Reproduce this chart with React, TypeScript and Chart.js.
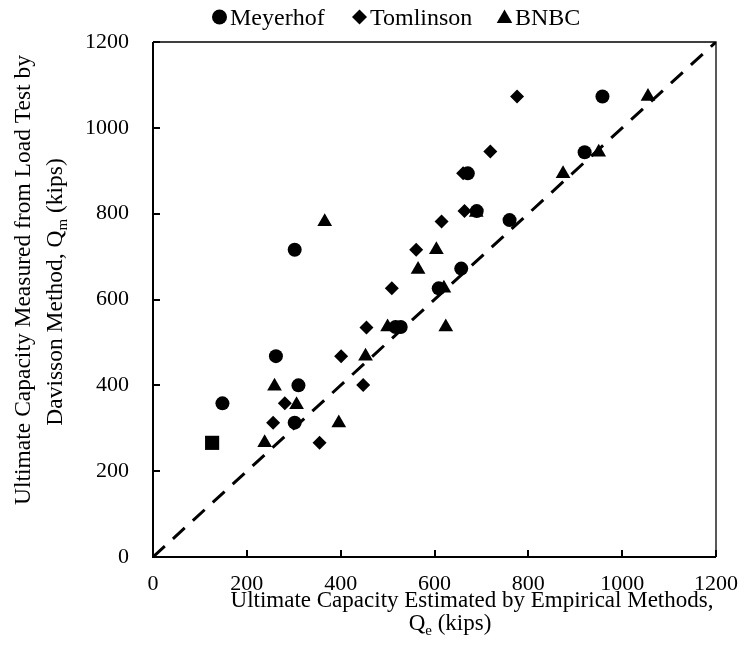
import React, { useEffect, useRef } from "react";
import { Chart, registerables } from "chart.js";

Chart.register(...registerables);

// ---- data ----
const axisTicks = [0, 200, 400, 600, 800, 1000, 1200];

const meyerhofX = [148, 262, 310, 302, 302, 517, 528, 609, 657, 671, 690, 760, 920, 958];
const meyerhofY = [358, 468, 400, 313, 716, 536, 536, 626, 672, 894, 806, 785, 943, 1073];

const tomlinsonX = [355, 256, 281, 448, 401, 455, 509, 561, 615, 664, 661, 719, 776];
const tomlinsonY = [266, 313, 358, 401, 468, 535, 626, 716, 782, 806, 894, 945, 1073];

const bnbcX = [238, 396, 306, 259, 453, 500, 624, 620, 565, 604, 366, 689, 874, 950, 1055];
const bnbcY = [266, 312, 355, 398, 468, 536, 536, 626, 670, 716, 781, 803, 893, 943, 1073];

const squareX = [126];
const squareY = [266];

const lineX = [0, 1200];
const lineY = [0, 1200];

const seriesLabels = ["Meyerhof", "Tomlinson", "BNBC"];

const FONT = '"Liberation Serif", "Times New Roman", Times, serif';

type Part = { t: string; sub?: boolean };

const xTitle1: Part[] = [{ t: "Ultimate Capacity Estimated by Empirical Methods," }];
const xTitle2: Part[] = [{ t: "Q" }, { t: "e", sub: true }, { t: " (kips)" }];
const yTitle1: Part[] = [{ t: "Ultimate Capacity Measured from Load Test by" }];
const yTitle2: Part[] = [{ t: "Davisson Method, Q" }, { t: "m", sub: true }, { t: " (kips)" }];

const zip = (xs: number[], ys: number[]) => xs.map((x, i) => ({ x, y: ys[i] }));

function drawRich(ctx: CanvasRenderingContext2D, parts: Part[], cx: number, by: number, size: number) {
  const subSize = Math.round(size * 0.65);
  const widths = parts.map((p) => {
    ctx.font = `${p.sub ? subSize : size}px ${FONT}`;
    return ctx.measureText(p.t).width;
  });
  const total = widths.reduce((a, b) => a + b, 0);
  let x = cx - total / 2;
  ctx.textAlign = "left";
  ctx.textBaseline = "alphabetic";
  parts.forEach((p, i) => {
    ctx.font = `${p.sub ? subSize : size}px ${FONT}`;
    ctx.fillText(p.t, x, by + (p.sub ? size * 0.22 : 0));
    x += widths[i];
  });
}

function drawMarker(ctx: CanvasRenderingContext2D, style: string, x: number, y: number, r: number) {
  ctx.beginPath();
  if (style === "circle") {
    ctx.arc(x, y, r, 0, Math.PI * 2);
  } else if (style === "rectRot") {
    ctx.moveTo(x - r, y);
    ctx.lineTo(x, y - r);
    ctx.lineTo(x + r, y);
    ctx.lineTo(x, y + r);
    ctx.closePath();
  } else if (style === "triangle") {
    ctx.moveTo(x, y - r);
    ctx.lineTo(x + r * 0.866, y + r * 0.5);
    ctx.lineTo(x - r * 0.866, y + r * 0.5);
    ctx.closePath();
  }
  ctx.fill();
}

const decorPlugin = {
  id: "decor",
  afterDraw(chart: any) {
    const ctx: CanvasRenderingContext2D = chart.ctx;
    const { left, right, top, bottom } = chart.chartArea;
    const xs = chart.scales.x;
    const ys = chart.scales.y;
    ctx.save();
    ctx.strokeStyle = "#000";
    ctx.fillStyle = "#000";
    // frame
    ctx.lineWidth = 1.3;
    ctx.beginPath();
    ctx.moveTo(left, top);
    ctx.lineTo(right, top);
    ctx.lineTo(right, bottom);
    ctx.stroke();
    ctx.lineWidth = 2;
    ctx.beginPath();
    ctx.moveTo(left, top);
    ctx.lineTo(left, bottom);
    ctx.lineTo(right, bottom);
    ctx.stroke();
    // inner ticks
    ctx.lineWidth = 2;
    ctx.beginPath();
    xs.ticks.forEach((t: any) => {
      const px = Math.round(xs.getPixelForValue(t.value));
      ctx.moveTo(px, bottom);
      ctx.lineTo(px, bottom - 7);
    });
    ys.ticks.forEach((t: any) => {
      const py = Math.round(ys.getPixelForValue(t.value));
      ctx.moveTo(left, py);
      ctx.lineTo(left + 7, py);
    });
    ctx.stroke();
    // axis titles
    drawRich(ctx, xTitle1, 472, 607, 23);
    drawRich(ctx, xTitle2, 450, 630, 23);
    ctx.save();
    ctx.translate(30, 280);
    ctx.rotate(-Math.PI / 2);
    drawRich(ctx, yTitle1, 0, 0, 23.5);
    ctx.restore();
    ctx.save();
    ctx.translate(62, 292);
    ctx.rotate(-Math.PI / 2);
    drawRich(ctx, yTitle2, 0, 0, 23.5);
    ctx.restore();
    // legend
    const legendItems = [
      { style: "circle", r: 7.5, mx: 219.5, tx: 230 },
      { style: "rectRot", r: 7.5, mx: 359.5, tx: 370 },
      { style: "triangle", r: 9, mx: 504.5, tx: 515 },
    ];
    ctx.font = `24px ${FONT}`;
    ctx.textAlign = "left";
    ctx.textBaseline = "alphabetic";
    legendItems.forEach((it, i) => {
      drawMarker(ctx, it.style, it.mx, it.style === "triangle" ? 18.5 : 17, it.r);
      ctx.fillText(seriesLabels[i], it.tx, 25);
    });
    ctx.restore();
  },
};

export default function App() {
  const ref = useRef<HTMLCanvasElement | null>(null);

  useEffect(() => {
    if (!ref.current) return;
    const chart = new Chart(ref.current, {
      type: "scatter",
      data: {
        datasets: [
          {
            label: "1:1",
            data: zip(lineX, lineY),
            showLine: true,
            borderColor: "#000",
            borderWidth: 3,
            borderDash: [16, 11],
            pointRadius: 0,
            order: 0,
          },
          {
            label: seriesLabels[0],
            data: zip(meyerhofX, meyerhofY),
            pointStyle: "circle",
            pointRadius: 7,
            backgroundColor: "#000",
            borderColor: "#000",
            borderWidth: 0,
            order: 1,
          },
          {
            label: seriesLabels[1],
            data: zip(tomlinsonX, tomlinsonY),
            pointStyle: "rectRot",
            pointRadius: 7,
            backgroundColor: "#000",
            borderColor: "#000",
            borderWidth: 0,
            order: 1,
          },
          {
            label: seriesLabels[2],
            data: zip(bnbcX, bnbcY),
            pointStyle: "triangle",
            pointRadius: 8.5,
            backgroundColor: "#000",
            borderColor: "#000",
            borderWidth: 0,
            order: 1,
          },
          {
            label: "",
            data: zip(squareX, squareY),
            pointStyle: "rect",
            pointRadius: 10,
            backgroundColor: "#000",
            borderColor: "#000",
            borderWidth: 0,
            order: 1,
          },
        ],
      },
      options: {
        responsive: false,
        devicePixelRatio: 1,
        animation: false,
        layout: { padding: { top: 42, right: 28, left: 0, bottom: 0 } },
        plugins: {
          legend: { display: false },
          tooltip: { enabled: false },
        },
        scales: {
          x: {
            type: "linear",
            min: 0,
            max: 1200,
            afterBuildTicks: (s: any) => {
              s.ticks = axisTicks.map((v) => ({ value: v }));
            },
            ticks: {
              font: { family: FONT, size: 22 },
              color: "#000",
              padding: 14,
              maxRotation: 0,
              autoSkip: false,
              callback: (v: any) => String(v),
            },
            grid: { display: false, drawTicks: false },
            border: { display: false },
            afterFit: (s: any) => {
              s.height = 115;
              s.paddingLeft = 0;
              s.paddingRight = 0;
            },
          },
          y: {
            type: "linear",
            min: 0,
            max: 1200,
            afterBuildTicks: (s: any) => {
              s.ticks = axisTicks.map((v) => ({ value: v }));
            },
            ticks: {
              font: { family: FONT, size: 22 },
              color: "#000",
              padding: 24,
              autoSkip: false,
              callback: (v: any) => String(v),
            },
            grid: { display: false, drawTicks: false },
            border: { display: false },
            afterFit: (s: any) => {
              s.width = 153;
              s.paddingTop = 0;
              s.paddingBottom = 0;
            },
          },
        },
      },
      plugins: [decorPlugin],
    });
    return () => chart.destroy();
  }, []);

  return (
    <div style={{ position: "fixed", left: 0, top: 0, width: 744, height: 672, background: "#fff" }}>
      <canvas ref={ref} width={744} height={672} style={{ width: 744, height: 672 }} />
    </div>
  );
}
